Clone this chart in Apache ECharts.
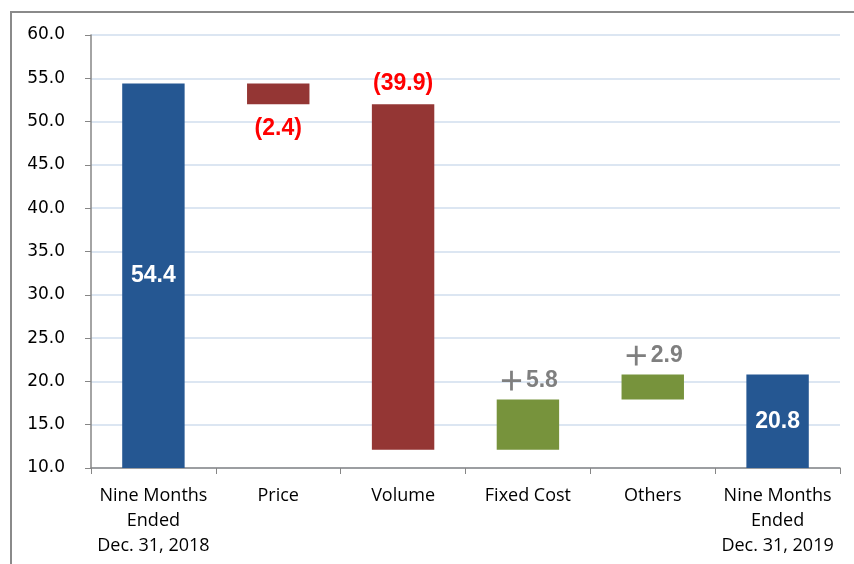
<!DOCTYPE html>
<html>
<head>
<meta charset="utf-8">
<script src="https://cdn.jsdelivr.net/npm/echarts@6/dist/echarts.min.js"></script>
<style>
  html, body { margin: 0; padding: 0; background: #fff; }
  #chart { width: 854px; height: 564px; }
</style>
</head>
<body>
<div id="chart"></div>
<script>
// 瀑布图数据
var categories = ['Nine Months\nEnded\nDec. 31, 2018', 'Price', 'Volume', 'Fixed Cost', 'Others', 'Nine Months\nEnded\nDec. 31, 2019'];
var changes = [54.4, -2.4, -39.9, 5.8, 2.9, 20.8];
var kinds = ['total', 'down', 'down', 'up', 'up', 'total'];
var labelTexts = ['54.4', '(2.4)', '(39.9)', '{p|\uFF0B}{n|5.8}', '{p|\uFF0B}{n|2.9}', '20.8'];
var yTicks = { min: 10, max: 60, step: 5 };

var colors = { total: '#255792', down: '#943634', up: '#77933c' };

// 计算透明底座和可见柱子
var baseData = [], barData = [];
var running = 0;
for (var i = 0; i < changes.length; i++) {
    var v = changes[i];
    var k = kinds[i];
    var item;
    if (k === 'total') {
        running = v;
        baseData.push(0);
        item = {
            value: v,
            itemStyle: { color: colors.total },
            label: { show: true, position: 'inside', color: '#fff', formatter: labelTexts[i] }
        };
    } else if (k === 'down') {
        running = running + v;
        baseData.push(running);
        item = {
            value: -v,
            itemStyle: { color: colors.down },
            label: {
                show: true,
                position: i === 1 ? 'bottom' : 'top',
                distance: i === 1 ? 13 : 9,
                color: '#ff0000',
                formatter: labelTexts[i]
            }
        };
    } else {
        baseData.push(running);
        running = running + v;
        item = {
            value: v,
            itemStyle: { color: colors.up },
            label: {
                show: true,
                position: 'top',
                distance: 5,
                color: '#7f7f7f',
                formatter: labelTexts[i],
                rich: {
                    p: { fontFamily: 'Noto Sans CJK SC', fontSize: 27, color: '#7f7f7f', padding: [0, 1, 0, 0] },
                    n: { fontFamily: 'Liberation Sans', fontWeight: 'bold', fontSize: 23, color: '#7f7f7f' }
                }
            }
        };
    }
    barData.push(item);
}

var chart = echarts.init(document.getElementById('chart'));
var option = {
    animation: false,
    grid: { left: 91, right: 14, top: 35, bottom: 96, containLabel: false },
    graphic: [{
        type: 'rect',
        shape: { x: 11, y: 12, width: 900, height: 600 },
        style: { fill: 'none', stroke: '#8a8a8a', lineWidth: 2 },
        silent: true
    }],
    xAxis: {
        type: 'category',
        data: categories,
        axisLine: { lineStyle: { color: '#868686', width: 1.5 } },
        axisTick: { show: true, length: 6, lineStyle: { color: '#868686' } },
        axisLabel: {
            color: '#000',
            fontSize: 18,
            fontFamily: 'Open Sans',
            lineHeight: 25,
            margin: 15,
            interval: 0
        }
    },
    yAxis: {
        type: 'value',
        min: yTicks.min,
        max: yTicks.max,
        interval: yTicks.step,
        axisLine: { show: true, lineStyle: { color: '#868686', width: 1.5 } },
        axisTick: { show: true, length: 6, lineStyle: { color: '#868686' } },
        axisLabel: {
            color: '#000',
            fontSize: 17,
            fontFamily: 'DejaVu Sans',
            margin: 26,
            formatter: function (v) { return v.toFixed(1); }
        },
        splitLine: { show: true, lineStyle: { color: '#dce6f2', width: 2 } }
    },
    series: [
        {
            type: 'bar',
            stack: 'w',
            barWidth: '50%',
            itemStyle: { color: 'transparent' },
            silent: true,
            data: baseData
        },
        {
            type: 'bar',
            stack: 'w',
            barWidth: '50%',
            label: {
                fontSize: 23,
                fontWeight: 'bold',
                fontFamily: 'Liberation Sans'
            },
            data: barData
        }
    ]
};
chart.setOption(option);
</script>
</body>
</html>
